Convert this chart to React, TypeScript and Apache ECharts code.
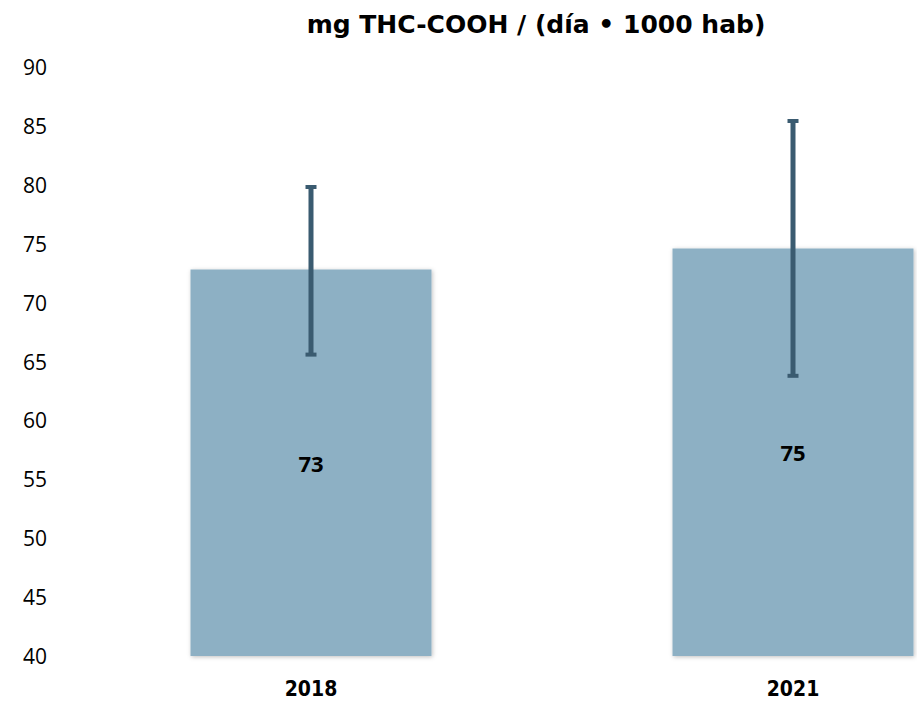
import React, { useEffect, useRef } from "react";
import * as echarts from "echarts";

const categories = ["2018", "2021"];
const values = [72.8, 74.6];
const errLow = [65.5, 63.7];
const errHigh = [79.9, 85.5];
const yTicks = { min: 40, max: 90, interval: 5 };

const BAR_COLOR = "#8DB0C4";
const ERR_COLOR = "#3A5B70";

export default function App() {
  const ref = useRef<HTMLDivElement>(null);
  useEffect(() => {
    document.body.style.margin = "0";
    const chart = echarts.init(ref.current!, null, { renderer: "svg" });
    const errData = categories.map((_, i) => [i, errLow[i], errHigh[i]]);
    chart.setOption({
      animation: false,
      backgroundColor: "#ffffff",
      title: {
        text: "mg THC-COOH / (día • 1000 hab)",
        left: 531,
        top: 7,
        textAlign: "center",
        textStyle: {
          fontFamily: "'DejaVu Sans', sans-serif",
          fontWeight: "bold",
          fontSize: 25,
          color: "#000",
        },
      },
      grid: { left: 70, top: 67, width: 964, bottom: 45, outerBoundsMode: "none", containLabel: false },
      xAxis: {
        type: "category",
        data: categories,
        axisLine: { show: false },
        axisTick: { show: false },
        axisLabel: {
          margin: 22,
          fontFamily: "'DejaVu Sans Condensed', 'DejaVu Sans', sans-serif",
          fontWeight: "bold",
          fontSize: 21,
          color: "#000",
        },
      },
      yAxis: {
        type: "value",
        min: yTicks.min,
        max: yTicks.max,
        interval: yTicks.interval,
        axisLine: { show: false },
        axisTick: { show: false },
        splitLine: { show: false },
        axisLabel: {
          margin: 23,
          fontFamily: "'Open Sans', sans-serif",
          fontSize: 21,
          color: "#000",
        },
      },
      series: [
        {
          type: "bar",
          data: values,
          barWidth: "50%",
          itemStyle: {
            color: BAR_COLOR,
            shadowColor: "rgba(0,0,0,0.25)",
            shadowBlur: 4,
            shadowOffsetX: 1,
            shadowOffsetY: 1,
          },
          label: {
            show: true,
            position: "inside",
            formatter: (p: any) => String(Math.round(p.value)),
            fontFamily: "'Open Sans', sans-serif",
            fontWeight: "bold",
            fontSize: 22,
            color: "#000",
          },
          z: 2,
        },
        {
          type: "custom",
          data: errData,
          z: 5,
          clip: false,
          renderItem: (params: any, api: any) => {
            const x = api.value(0);
            const lo = api.coord([x, api.value(1)]);
            const hi = api.coord([x, api.value(2)]);
            const cx = lo[0];
            const capW = 11;
            const capH = 4;
            const style = { fill: ERR_COLOR };
            return {
              type: "group",
              children: [
                { type: "rect", shape: { x: cx - 2.5, y: hi[1], width: 5, height: lo[1] - hi[1] }, style },
                { type: "rect", shape: { x: cx - capW / 2, y: hi[1] - 1, width: capW, height: capH }, style },
                { type: "rect", shape: { x: cx - capW / 2, y: lo[1] - capH + 1, width: capW, height: capH }, style },
              ],
            };
          },
        },
      ],
    });
    return () => chart.dispose();
  }, []);
  return <div ref={ref} style={{ width: 917, height: 701 }} />;
}
